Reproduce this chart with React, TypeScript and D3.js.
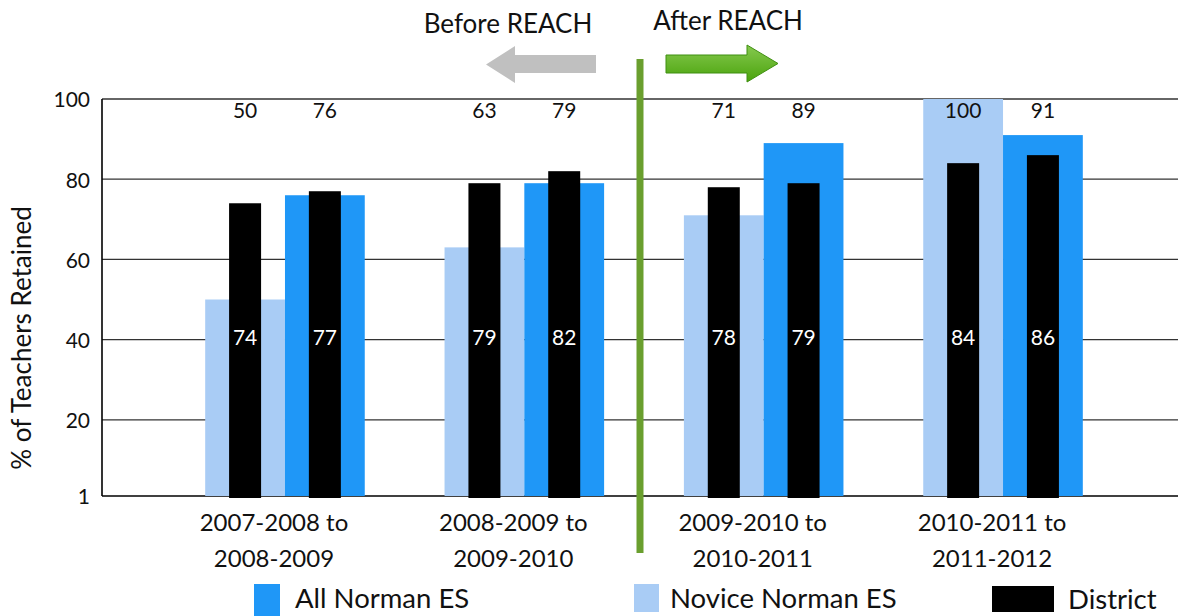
import * as d3 from "d3"

// periods (two-line labels)
const periods = [
  ["2007-2008 to", "2008-2009"],
  ["2008-2009 to", "2009-2010"],
  ["2009-2010 to", "2010-2011"],
  ["2010-2011 to", "2011-2012"],
]
const novice = [50, 63, 71, 100]
const allNorman = [76, 79, 89, 91]
const districtNovice = [74, 79, 78, 84]
const districtAll = [77, 82, 79, 86]
const yTicks = [1, 20, 40, 60, 80, 100]

const W = 1178
const H = 616
const FONT = "Lato, 'Open Sans', sans-serif"
const C_ALL = "#1f97f7"
const C_NOVICE = "#a9ccf5"
const C_DISTRICT = "#000000"

export default function App() {
  const left = 102
  const right = W
  const x = d3.scaleBand<number>()
    .domain(d3.range(periods.length))
    .range([165.3, 1122.7])
  const sub = d3.scaleBand<string>()
    .domain(["novice", "all"])
    .range([0, x.bandwidth()])
    .paddingOuter(0.5)
  const y = d3.scaleLinear().domain([1, 100]).range([496, 99])
  const blackW = 32

  const groups = periods.map((_, i) => ({
    i,
    bars: [
      { key: "novice", v: novice[i], d: districtNovice[i], fill: C_NOVICE },
      { key: "all", v: allNorman[i], d: districtAll[i], fill: C_ALL },
    ],
  }))

  return (
    <svg width={W} height={H} style={{ position: "absolute", left: 0, top: 0, fontFamily: FONT }}>
      <defs>
        <linearGradient id="greenArrow" x1="0" y1="0" x2="0" y2="1">
          <stop offset="0%" stopColor="#86c94f" />
          <stop offset="100%" stopColor="#4aa30c" />
        </linearGradient>
      </defs>

      {/* header */}
      <text x={508} y={33} fontSize={26} textAnchor="middle" fill="#111">Before REACH</text>
      <text x={728} y={30} fontSize={26} textAnchor="middle" fill="#111">After REACH</text>
      <path d="M596,55 L515,55 L515,46 L486,64.5 L515,83 L515,73 L596,73 Z" fill="#c0c0c0" />
      <path d="M666,55 L747,55 L747,45 L778,63.5 L747,82 L747,73 L666,73 Z"
        fill="url(#greenArrow)" stroke="#3f8f10" strokeWidth={1} />

      {/* grid */}
      {yTicks.filter(t => t !== 1).map(t => (
        <line key={t} x1={left} x2={right} y1={y(t)} y2={y(t)} stroke="#333" strokeWidth={1.3} />
      ))}
      <line x1={left} x2={right} y1={y(1)} y2={y(1)} stroke="#000" strokeWidth={1.6} />
      <line x1={left} x2={left} y1={y(100)} y2={y(1)} stroke="#000" strokeWidth={1.6} />

      {/* y ticks */}
      {yTicks.map(t => (
        <text key={t} x={90} y={y(t) + 3} fontSize={21} textAnchor="end" dominantBaseline="middle" fill="#111">{t}</text>
      ))}
      <text transform={`translate(24,338) rotate(-90)`} fontSize={26} textAnchor="middle" dominantBaseline="middle" fill="#111">
        % of Teachers Retained
      </text>

      {/* bars */}
      {groups.map(g => (
        <g key={g.i} transform={`translate(${x(g.i)},0)`}>
          {g.bars.map(b => {
            const sx = sub(b.key) as number
            const cx = sx + sub.bandwidth() / 2
            return (
              <g key={b.key}>
                <rect x={sx} y={y(b.v)} width={sub.bandwidth()} height={y(1) - y(b.v)} fill={b.fill} />
                <rect x={cx - blackW / 2} y={y(b.d)} width={blackW} height={y(1) - y(b.d) + 2} fill={C_DISTRICT} />
                <text x={cx} y={118} fontSize={21} textAnchor="middle" fill="#111">{b.v}</text>
                <text x={cx} y={340} fontSize={21} textAnchor="middle" dominantBaseline="middle" fill="#fff">{b.d}</text>
              </g>
            )
          })}
          {periods[g.i].map((line, k) => (
            <text key={k} x={x.bandwidth() / 2 - 11} y={531 + k * 36} fontSize={24} textAnchor="middle" fill="#111">{line}</text>
          ))}
        </g>
      ))}

      {/* before/after divider */}
      <line x1={640} x2={640} y1={59} y2={553} stroke="#6a9f2e" strokeWidth={7} />

      {/* legend */}
      <rect x={254} y={584} width={26} height={32} fill={C_ALL} />
      <text x={295} y={608} fontSize={27.5} fill="#111">All Norman ES</text>
      <rect x={634} y={584} width={25} height={28} fill={C_NOVICE} />
      <text x={670} y={608} fontSize={27.5} fill="#111">Novice Norman ES</text>
      <rect x={992} y={586} width={62} height={26} fill={C_DISTRICT} />
      <text x={1068} y={609} fontSize={27.5} fill="#111">District</text>
    </svg>
  )
}
